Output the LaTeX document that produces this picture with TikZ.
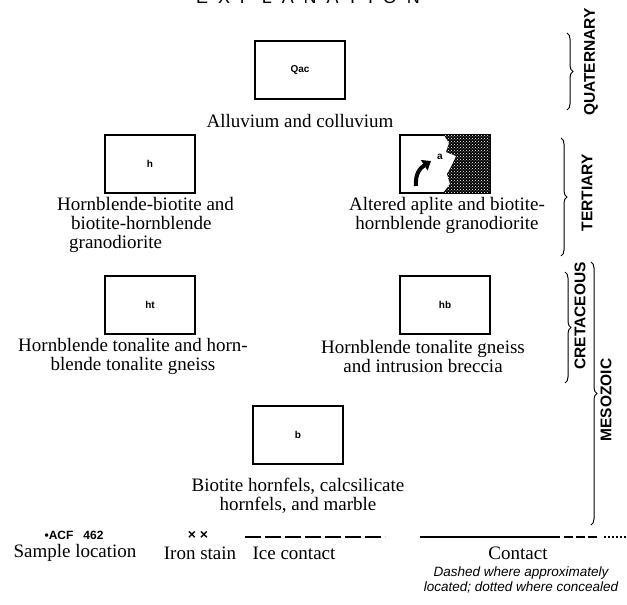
\documentclass[tikz,border=0pt]{standalone}
\usepackage{fontspec}
\setmainfont{Liberation Serif}
\setsansfont{Liberation Sans}
\newfontfamily\titlefont[LetterSpace=55]{Liberation Sans}
\usetikzlibrary{decorations.pathreplacing,patterns,arrows.meta}

\begin{document}
\begin{tikzpicture}[x=1pt,y=-1pt,
	unit/.style={draw,line width=1.1pt,minimum width=90pt,minimum height=58pt,inner sep=0pt,font=\sffamily\bfseries\fontsize{10}{10}\selectfont},
	desc/.style={align=center,inner sep=0pt,font=\fontsize{19}{19}\selectfont},
	age/.style={rotate=90,inner sep=0pt,font=\sffamily\bfseries\fontsize{15.5}{15.5}\selectfont},
	brc/.style={decorate,decoration={brace,amplitude=6pt},line width=1pt},
	leg/.style={inner sep=0pt,font=\fontsize{19}{19}\selectfont}]
	\useasboundingbox (0,0) rectangle (627,605);
	% title, cut by the page edge
	\node[anchor=base,font=\titlefont\fontsize{18}{18}\selectfont] (title) at (308,3) {EXPLANATION};
	% map units
	\node[unit] (qac) at (300,70) {Qac};
	\node[desc] (qact) at (300,121) {Alluvium and colluvium};
	\node[unit] (h) at (150,164) {h};
	\node[desc,align=left,anchor=north west] (ht1) at (57,197) {Hornblende-biotite and\\\hspace*{14pt}biotite-hornblende\\\hspace*{12pt}granodiorite};
	\node[unit] (ap) at (445,164) {};
	\fill[black] (444,135) -- (449,143) -- (446,152) -- (456,156) -- (452,165) -- (447,174) -- (450,184) -- (443,193) -- (490,193) -- (490,135) -- cycle;
	\fill[pattern=crosshatch dots,pattern color=white] (444,135) -- (449,143) -- (446,152) -- (456,156) -- (452,165) -- (447,174) -- (450,184) -- (443,193) -- (490,193) -- (490,135) -- cycle;
	\draw[line width=1.1pt] (ap.south west) rectangle (ap.north east);
	\draw[line width=4pt,-{Triangle[length=8pt,width=12pt]}] (416,186) .. controls (415,174) and (420,168) .. (431,161);
	\node[font=\sffamily\bfseries\fontsize{10}{10}\selectfont,inner sep=0pt] (apa) at (440,157) {a};
	\node[desc] (apt) at (447,215) {Altered aplite and biotite-\\hornblende granodiorite};
	\node[unit] (hto) at (150,305) {ht};
	\node[desc] (htot) at (133,356) {Hornblende tonalite and horn-\\blende tonalite gneiss};
	\node[unit] (hb) at (445,305) {hb};
	\node[desc] (hbt) at (423,356) {Hornblende tonalite gneiss\\and intrusion breccia};
	\node[unit] (b) at (298,435) {b};
	\node[desc] (bt) at (298,496) {Biotite hornfels, calcsilicate\\hornfels, and marble};
	% ages
	\node[age] (quat) at (591,62) {QUATERNARY};
	\draw[brc] (567,33) -- (567,110);
	\node[age] (tert) at (587,193) {TERTIARY};
	\draw[brc] (561,138) -- (561,256);
	\node[age] (cret) at (580,316) {CRETACEOUS};
	\draw[brc] (565,272) -- (565,383);
	\node[age] (meso) at (606,400) {MESOZOIC};
	\draw[brc] (591,262) -- (591,525);
	% legend
	\node[inner sep=0pt,font=\sffamily\bfseries\fontsize{12}{12}\selectfont] (acf) at (74,535) {\textbullet ACF\ \ \ 462};
	\node[leg] (sam) at (75,553) {Sample location};
	\node[inner sep=0pt,font=\sffamily\bfseries\fontsize{14}{14}\selectfont] (fe) at (198,535) {× ×};
	\node[leg] (fet) at (200,553) {Iron stain};
	\coordinate (ice1) at (245,537);
	\coordinate (ice2) at (385,537);
	\draw[line width=1.2pt,dash pattern=on 16pt off 4pt] (ice1) -- (ice2);
	\node[leg] (icet) at (294,553) {Ice contact};
	\coordinate (con1) at (420,537);
	\coordinate (con2) at (560,537);
	\coordinate (con3) at (564,537);
	\coordinate (con4) at (600,537);
	\coordinate (con5) at (604,537);
	\coordinate (con6) at (626,537);
	\draw[line width=1.2pt] (con1) -- (con2);
	\draw[line width=1.2pt,dash pattern=on 9pt off 3pt] (con3) -- (con4);
	\draw[line width=1.2pt,dash pattern=on 2pt off 2pt] (con5) -- (con6);
	\node[leg] (cont) at (518,553) {Contact};
	\node[align=center,inner sep=0pt,font=\sffamily\itshape\fontsize{13.5}{15.5}\selectfont] (contn) at (521,580) {Dashed where approximately\\located; dotted where concealed};
\end{tikzpicture}
\end{document}
